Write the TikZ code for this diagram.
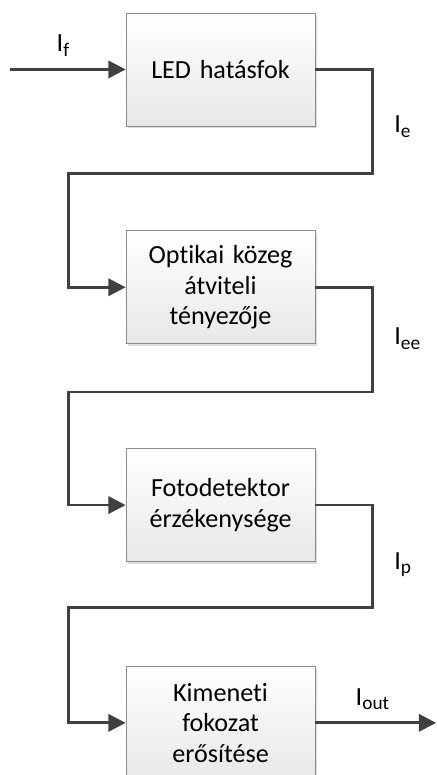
\documentclass[tikz,border=0pt]{standalone}
\usepackage{fontspec}
\setmainfont{Carlito}[Ligatures=NoCommon]
\usetikzlibrary{positioning,arrows.meta,shadows,calc}

% lowered index of the currents
\newcommand{\alind}[1]{\raisebox{-3.6pt}{\fontsize{14.5}{14.5}\selectfont #1}}

\begin{document}
\begin{tikzpicture}[node distance=78pt, font=\fontsize{19.6}{23}\selectfont]

	\useasboundingbox (0,0) rectangle (327pt,-581.25pt);

	% Define custom styles for the blocks and the signal lines
	\tikzstyle{block} = [rectangle, draw=black!45, line width=0.6pt, text width=135pt, align=center,
	minimum width=141.75pt, minimum height=84.75pt, top color=white, bottom color=black!9,
	drop shadow={shadow xshift=1.6pt, shadow yshift=-1.6pt, fill=black!30, opacity=0.45}]
	\tikzstyle{signal} = [draw=black!75, line width=2.1pt, -{Triangle[length=13pt, width=13pt]}]
	\tikzstyle{current} = [inner sep=2pt]

	% Blocks of the chain, top to bottom
	\node[block] (led) at (165.4pt,-52.1pt) {LED hatásfok};
	\node[block, below=of led] (optika) {Optikai közeg\\ átviteli\\ tényezője};
	\node[block, below=of optika] (foto) {Fotodetektor\\ érzékenysége};
	\node[block, below=of foto] (kimenet) {Kimeneti\\ fokozat\\ erősítése};

	% Free ends and the rails between the blocks
	\coordinate (be) at ([xshift=-87pt]led.west);
	\coordinate (ki) at ([xshift=90.5pt]kimenet.east);
	\coordinate (k1) at ($(led.south)!0.45!(optika.north)$);
	\coordinate (k2) at ($(optika.south)!0.46!(foto.north)$);
	\coordinate (k3) at ($(foto.south)!0.44!(kimenet.north)$);

	% Signal lines
	\draw[signal] (be) -- (led.west);
	\draw[signal] (led.east) -- ++(42.75pt,0) |- (k1) -| ([xshift=-42.75pt]optika.west) -- (optika.west);
	\draw[signal] (optika.east) -- ++(42.75pt,0) |- (k2) -| ([xshift=-42.75pt]foto.west) -- (foto.west);
	\draw[signal] (foto.east) -- ++(42.75pt,0) |- (k3) -| ([xshift=-42.75pt]kimenet.west) -- (kimenet.west);
	\draw[signal] (kimenet.east) -- (ki);

	% Current labels
	\node[current, anchor=south] (i_f) at ($(led.west)+(-47pt,7.5pt)$) {I\alind{f}};
	\node[current, anchor=west] (i_e) at ($(led.south east)+(57pt,0pt)$) {I\alind{e}};
	\node[current, anchor=west] (i_ee) at ($(optika.south east)+(57pt,4pt)$) {I\alind{ee}};
	\node[current, anchor=west] (i_p) at ($(foto.south east)+(57pt,-2pt)$) {I\alind{p}};
	\node[current, anchor=south] (i_out) at ($(kimenet.east)+(42.75pt,7.5pt)$) {I\alind{out}};

\end{tikzpicture}
\end{document}
